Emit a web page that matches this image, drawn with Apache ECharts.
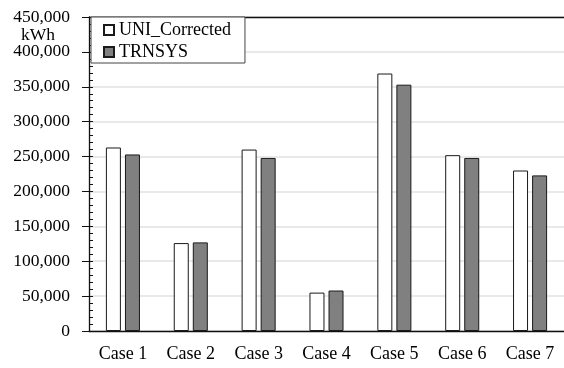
<!DOCTYPE html>
<html>
<head>
<meta charset="utf-8">
<script src="https://cdn.jsdelivr.net/npm/echarts@6/dist/echarts.min.js"></script>
<style>
  html, body { margin: 0; padding: 0; background: #fff; }
  #chart { width: 564px; height: 368px; }
</style>
</head>
<body>
<div id="chart"></div>
<script>
// Annual energy per case, kWh
const categories = ['Case 1', 'Case 2', 'Case 3', 'Case 4', 'Case 5', 'Case 6', 'Case 7'];
const uniCorrected = [263000, 126000, 260000, 55000, 369000, 252000, 230000];
const trnsys = [253000, 127000, 248000, 58000, 353000, 248000, 223000];
const yMin = 0;
const yMax = 450000;
const yStep = 50000;
const yMinorStep = 10000;

const FONT = 'Liberation Serif';
const chart = echarts.init(document.getElementById('chart'), null, { renderer: 'canvas' });

chart.setOption({
  backgroundColor: '#ffffff',
  animation: false,
  title: {
    text: 'kWh',
    left: 21,
    top: 26,
    padding: 0,
    textStyle: { fontFamily: FONT, fontSize: 17.5, fontWeight: 'normal', color: '#000' }
  },
  legend: {
    orient: 'vertical',
    left: 91,
    top: 17,
    padding: [4, 14, 2, 12],
    itemWidth: 10,
    itemHeight: 10,
    itemGap: 4,
    backgroundColor: '#ffffff',
    borderColor: '#444',
    borderWidth: 1,
    borderRadius: 0,
    icon: 'rect',
    textStyle: { fontFamily: FONT, fontSize: 18, color: '#000' },
    data: ['UNI_Corrected', 'TRNSYS']
  },
  grid: { left: 89, top: 17, right: -4, bottom: 37, containLabel: false },
  xAxis: [
    {
      type: 'category',
      data: categories,
      position: 'bottom',
      axisLine: { show: true, lineStyle: { color: '#111', width: 1.3 } },
      axisTick: { show: false },
      axisLabel: { fontFamily: FONT, fontSize: 18, color: '#000', margin: 14 },
      splitLine: { show: false }
    },
    {
      type: 'category',
      data: categories,
      position: 'top',
      axisLine: { show: true, onZero: false, lineStyle: { color: '#111', width: 1.3 } },
      axisTick: { show: false },
      axisLabel: { show: false },
      splitLine: { show: false }
    }
  ],
  yAxis: [
    {
      type: 'value',
      position: 'left',
      min: yMin,
      max: yMax,
      interval: yStep,
      axisLine: { show: true, lineStyle: { color: '#111', width: 1.3 } },
      axisTick: { show: true, inside: false, length: 7, lineStyle: { color: '#111', width: 1 } },
      axisLabel: {
        fontFamily: FONT, fontSize: 17.5, color: '#000', margin: 19,
        formatter: v => v.toLocaleString('en-US')
      },
      splitLine: { show: true, lineStyle: { color: '#e2e2e2', width: 1.5 } }
    },
    {
      type: 'value',
      position: 'left',
      min: yMin,
      max: yMax,
      interval: yMinorStep,
      axisLine: { show: false },
      axisTick: { show: true, inside: true, length: 4, lineStyle: { color: '#111', width: 1 } },
      axisLabel: { show: false },
      splitLine: { show: false }
    }
  ],
  series: [
    {
      name: 'UNI_Corrected',
      type: 'bar',
      xAxisIndex: 0,
      yAxisIndex: 0,
      data: uniCorrected,
      barWidth: 15,
      barGap: '27%',
      itemStyle: { color: '#ffffff', borderColor: '#1a1a1a', borderWidth: 1 }
    },
    {
      name: 'TRNSYS',
      type: 'bar',
      xAxisIndex: 0,
      yAxisIndex: 0,
      data: trnsys,
      barWidth: 15,
      barGap: '27%',
      itemStyle: { color: '#808080', borderColor: '#1a1a1a', borderWidth: 1 }
    }
  ]
});
</script>
</body>
</html>
